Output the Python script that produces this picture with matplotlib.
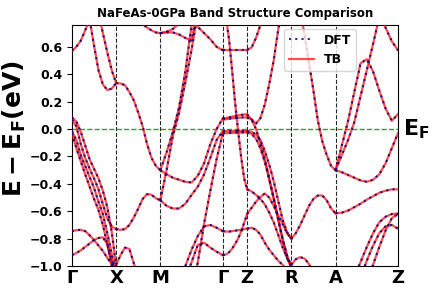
import numpy as np
import matplotlib
matplotlib.use("Agg")
import matplotlib.pyplot as plt

# high-symmetry points along the path (cumulative k distance, units of pi/a)
kpt_labels = ['Γ', 'X', 'M', 'Γ', 'Z', 'R', 'A', 'Z']
kpt_dist = [0.0, 1.0, 2.0, 3.414, 3.964, 4.964, 5.964, 7.378]

# energies (eV, relative to E_F) read along each path segment, evenly spaced in k
gx_bands = [
    [0.57, 0.60, 0.645, 0.72, 0.80, 0.61, 0.43, 0.325, 0.285, 0.295, 0.335],
    [1.2, 1.2, 1.15, 1.1, 1.05, 0.97, 0.85, 0.70, 0.56, 0.43, 0.335],
    [0.085, 0.055, -0.02, -0.12, -0.22, -0.29, -0.36, -0.45, -0.57, -0.75, -1.0],
    [0.07, 0.02, -0.11, -0.21, -0.29, -0.36, -0.44, -0.55, -0.65, -0.71, -0.73],
    [-0.015, -0.08, -0.19, -0.27, -0.35, -0.43, -0.53, -0.62, -0.76, -0.91, -1.06],
    [-0.03, -0.14, -0.235, -0.33, -0.42, -0.51, -0.59, -0.70, -0.84, -1.0, -1.15],
    [-0.745, -0.738, -0.735, -0.745, -0.775, -0.81, -0.85, -0.89, -0.94, -0.985, -1.02],
    [-0.92, -0.905, -0.885, -0.86, -0.835, -0.81, -0.795, -0.79, -0.84, -0.96, -1.05],
]
xm_bands = [
    [0.335, 0.333, 0.32, 0.27, 0.21, 0.12, 0.02, -0.11, -0.21, -0.27, -0.30],
    [-0.73, -0.735, -0.73, -0.70, -0.645, -0.58, -0.51, -0.475, -0.48, -0.505, -0.52],
    [-0.99, -0.92, -0.865, -0.875, -0.98, -1.08, -1.15, -1.2, -1.2, -1.2, -1.2],
    [1.2, 1.1, 1.0, 0.95, 0.85, 0.80, 0.765, 0.74, 0.72, 0.705, 0.70],
]
mg_bands = [
    [0.70, 0.705, 0.705, 0.69, 0.665, 0.645, 0.90, 1.2, 1.2, 1.2, 1.2],
    [0.70, 0.71, 0.73, 0.77, 0.83, 0.90, 1.0, 1.1, 1.2, 1.2, 1.2],
    [1.2, 1.2, 1.2, 1.1, 1.0, 0.84, 0.745, 0.70, 0.655, 0.60, 0.575],
    [-0.30, -0.17, -0.02, 0.16, 0.42, 0.76, 1.05, 1.2, 1.2, 1.2, 1.2],
    [-0.52, -0.30, -0.05, 0.12, 0.34, 0.58, 0.85, 1.1, 1.2, 1.2, 1.2],
    [-0.30, -0.33, -0.355, -0.37, -0.385, -0.39, -0.34, -0.25, -0.11, 0.0, 0.078],
    [-0.52, -0.56, -0.58, -0.58, -0.545, -0.48, -0.42, -0.33, -0.21, -0.08, -0.015],
    [-1.3, -1.3, -1.25, -1.15, -1.0, -0.88, -0.78, -0.71, -0.70, -0.72, -0.745],
    [-1.3, -1.3, -1.3, -1.25, -1.1, -0.97, -0.845, -0.83, -0.865, -0.895, -0.92],
    [-1.3, -1.3, -1.3, -1.3, -1.3, -1.2, -0.97, -0.69, -0.45, -0.22, -0.03],
]
gz_bands = [
    [0.575, 0.575, 0.575, 0.575, 0.575, 0.575, 0.575, 0.575, 0.575],
    [0.95, 0.82, 0.66, 0.44, 0.20, -0.01, -0.20, -0.36, -0.44],
    [0.078, 0.08, 0.085, 0.09, 0.095, 0.10, 0.103, 0.106, 0.107],
    [0.07, 0.072, 0.075, 0.078, 0.08, 0.082, 0.084, 0.085, 0.085],
    [-0.015, -0.015, -0.015, -0.015, -0.015, -0.015, -0.015, -0.015, -0.015],
    [-0.03, -0.03, -0.029, -0.028, -0.027, -0.026, -0.025, -0.025, -0.025],
    [-0.745, -0.748, -0.748, -0.745, -0.742, -0.738, -0.734, -0.73, -0.727],
    [-0.92, -0.915, -0.90, -0.875, -0.84, -0.80, -0.75, -0.685, -0.62],
]
zr_bands = [
    [0.578, 0.595, 0.665, 0.76, 0.86, 0.95, 1.05, 1.1, 1.1, 1.1, 1.1],
    [0.107, 0.07, 0.04, 0.08, 0.18, 0.33, 0.50, 0.72, 0.9, 1.0, 1.1],
    [0.085, 0.07, 0.0, -0.10, -0.22, -0.36, -0.50, -0.65, -0.80, -0.93, -1.02],
    [-0.015, -0.02, -0.04, -0.08, -0.16, -0.26, -0.38, -0.52, -0.66, -0.75, -0.80],
    [-0.025, -0.035, -0.07, -0.14, -0.24, -0.37, -0.51, -0.66, -0.80, -0.92, -1.0],
    [-0.44, -0.455, -0.48, -0.51, -0.55, -0.61, -0.68, -0.77, -0.86, -0.94, -1.0],
    [-0.62, -0.575, -0.53, -0.495, -0.47, -0.50, -0.56, -0.63, -0.69, -0.76, -0.80],
    [-0.727, -0.72, -0.735, -0.77, -0.83, -0.88, -0.92, -0.96, -0.99, -1.02, -1.05],
]
ra_bands = [
    [-0.80, -0.76, -0.70, -0.63, -0.56, -0.51, -0.485, -0.485, -0.52, -0.58, -0.615],
    [-0.99, -0.95, -0.935, -0.945, -0.985, -1.05, -1.1, -1.15, -1.2, -1.2, -1.2],
    [1.1, 1.0, 0.88, 0.68, 0.48, 0.28, 0.06, -0.09, -0.19, -0.27, -0.30],
]
az_bands = [
    [-0.30, -0.315, -0.335, -0.355, -0.375, -0.385, -0.37, -0.33, -0.25, -0.14, -0.03],
    [-0.30, -0.12, 0.06, 0.27, 0.48, 0.51, 0.42, 0.28, 0.15, 0.06, 0.11],
    [-0.30, -0.19, -0.08, 0.05, 0.24, 0.43, 0.62, 0.82, 1.0, 1.1, 1.2],
    [1.2, 1.2, 1.2, 1.1, 1.05, 1.0, 0.93, 0.85, 0.74, 0.64, 0.575],
    [-0.615, -0.61, -0.595, -0.57, -0.545, -0.515, -0.49, -0.465, -0.45, -0.44, -0.44],
    [-1.3, -1.3, -1.2, -1.08, -0.97, -0.86, -0.76, -0.68, -0.64, -0.62, -0.617],
    [-1.3, -1.3, -1.3, -1.2, -1.08, -0.96, -0.85, -0.76, -0.71, -0.70, -0.727],
    [-1.3, -1.3, -1.3, -1.3, -1.2, -1.12, -0.99, -0.86, -0.74, -0.65, -0.62],
]
segments = [gx_bands, xm_bands, mg_bands, gz_bands, zr_bands, ra_bands, az_bands]


def plot_bands():
    fig = plt.figure(figsize=(4.36, 3.0), dpi=100)
    ax = fig.add_axes([0.165, 0.113, 0.748, 0.804])

    first = True
    for i, bands in enumerate(segments):
        k0, k1 = kpt_dist[i], kpt_dist[i + 1]
        for e in bands:
            k = np.linspace(k0, k1, len(e))
            ax.plot(k, e, color='red', linestyle='-', linewidth=1.6, alpha=0.7,
                    label='TB' if first else None, zorder=3)
            ax.plot(k, e, color='navy', linestyle=(0, (1, 2)), linewidth=1.5, alpha=0.85,
                    label='DFT' if first else None, zorder=4)
            first = False

    for k in kpt_dist[1:-1]:
        ax.axvline(k, color='black', linestyle='--', linewidth=0.8, alpha=0.85, zorder=1)
    ax.axhline(0.0, color='tab:green', linestyle='--', linewidth=1.0, zorder=2)

    ax.set_xlim(kpt_dist[0], kpt_dist[-1])
    ax.set_ylim(-1.0, 0.76)
    ax.set_xticks(kpt_dist)
    ax.set_xticklabels(kpt_labels, fontsize=13, fontweight='bold')
    ax.set_yticks([-1.0, -0.8, -0.6, -0.4, -0.2, 0.0, 0.2, 0.4, 0.6])
    for lab in ax.get_yticklabels():
        lab.set_fontweight('bold')
        lab.set_fontsize(9)
    ax.tick_params(axis='x', length=0, pad=2)

    ax.set_ylabel(r'$\mathbf{E-E_F (eV)}$', fontsize=18)
    ax.yaxis.set_label_coords(-0.135, 0.57)
    ax.set_title('NaFeAs-0GPa Band Structure Comparison', fontsize=8.5, fontweight='bold')
    ax.text(1.015, 0.0, r'$\mathbf{E_F}$', transform=ax.get_yaxis_transform(),
            fontsize=16, va='center', ha='left')
    handles, labels = ax.get_legend_handles_labels()
    ax.legend(handles[::-1], labels[::-1], loc='upper right', bbox_to_anchor=(0.89, 1.01),
              prop={'weight': 'bold', 'size': 9})

    fig.savefig('out.png', dpi=100)


if __name__ == '__main__':
    plot_bands()
